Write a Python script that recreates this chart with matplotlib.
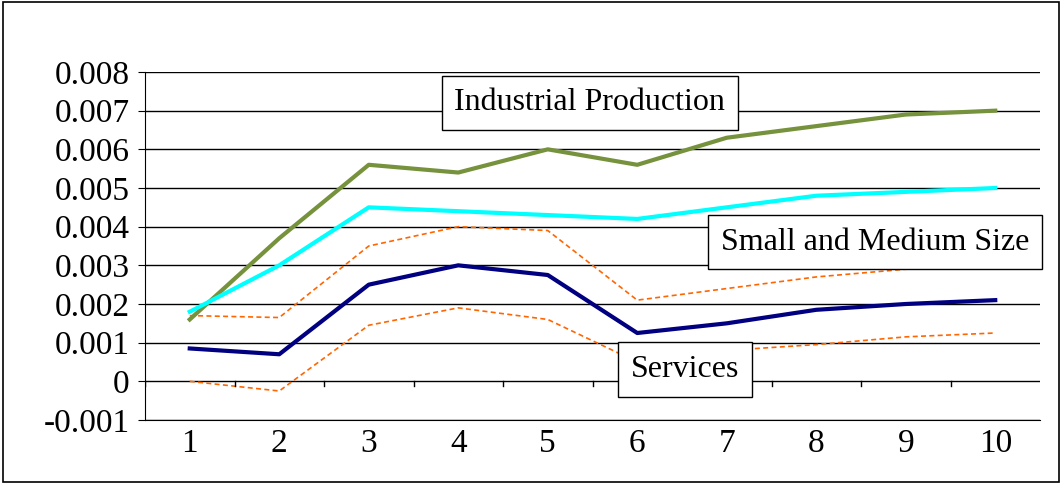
import matplotlib
matplotlib.use("Agg")
import matplotlib.pyplot as plt
from matplotlib.patches import Rectangle

x = list(range(1, 11))
industrial = [0.0016, 0.0037, 0.0056, 0.0054, 0.0060, 0.0056, 0.0063, 0.0066, 0.0069, 0.0070]
sme = [0.0018, 0.0030, 0.0045, 0.0044, 0.0043, 0.0042, 0.0045, 0.0048, 0.0049, 0.0050]
services = [0.00085, 0.0007, 0.0025, 0.0030, 0.00275, 0.00125, 0.0015, 0.00185, 0.0020, 0.0021]
upper = [0.0017, 0.00165, 0.0035, 0.0040, 0.0039, 0.0021, 0.0024, 0.0027, 0.0029, 0.0030]
lower = [0.0000, -0.00025, 0.00145, 0.0019, 0.0016, 0.0005, 0.0008, 0.00095, 0.00115, 0.00125]
yticks = [-0.001, 0, 0.001, 0.002, 0.003, 0.004, 0.005, 0.006, 0.007, 0.008]

plt.rcParams['font.family'] = ['Liberation Serif', 'DejaVu Serif']
fig = plt.figure(figsize=(10.62, 4.84), dpi=100)
fig.patches.append(Rectangle((0.003, 0.004), 0.994, 0.992, transform=fig.transFigure,
                             fill=False, edgecolor='black', lw=1.2))
ax = fig.add_axes([145/1062, 1-420/484, 895/1062, 348/484])
for t in yticks:
    ax.axhline(t, color='black', lw=1, zorder=1)
ax.plot(x, upper, color='#ff6600', ls='--', lw=1.2, dashes=(3, 2), zorder=2)
ax.plot(x, lower, color='#ff6600', ls='--', lw=1.2, dashes=(3, 2), zorder=2)
ax.plot(x, industrial, color='#76923c', lw=3, zorder=3)
ax.plot(x, sme, color='#00ffff', lw=3, zorder=3)
ax.plot(x, services, color='#000080', lw=3, zorder=3)
ax.set_xlim(0.5, 10.5)
ax.set_ylim(-0.001, 0.008)
ax.set_yticks(yticks)
ax.set_yticklabels(['-0.001', '0', '0.001', '0.002', '0.003', '0.004', '0.005', '0.006', '0.007', '0.008'])
ax.set_xticks(x)
ax.tick_params(axis='x', length=0, pad=6, labelsize=24)
ax.tick_params(axis='y', direction='out', length=5, labelsize=24, pad=6)
for xb in [i + 0.5 for i in range(0, 10)]:
    ax.plot([xb, xb], [0, -0.00012], color='black', lw=1, zorder=2)
ax.spines['top'].set_visible(False)
ax.spines['right'].set_visible(False)
box = dict(boxstyle='square,pad=0.4', facecolor='white', edgecolor='black', lw=1)
ax.text(5.47, 0.0072, 'Industrial Production', fontsize=23, ha='center', va='center', bbox=box, zorder=5)
ax.text(8.66, 0.0036, 'Small and Medium Size', fontsize=23, ha='center', va='center', bbox=box, zorder=5)
ax.text(6.53, 0.0003, 'Services', fontsize=23, ha='center', va='center', bbox=box, zorder=5)
fig.savefig('out.png', dpi=100)
